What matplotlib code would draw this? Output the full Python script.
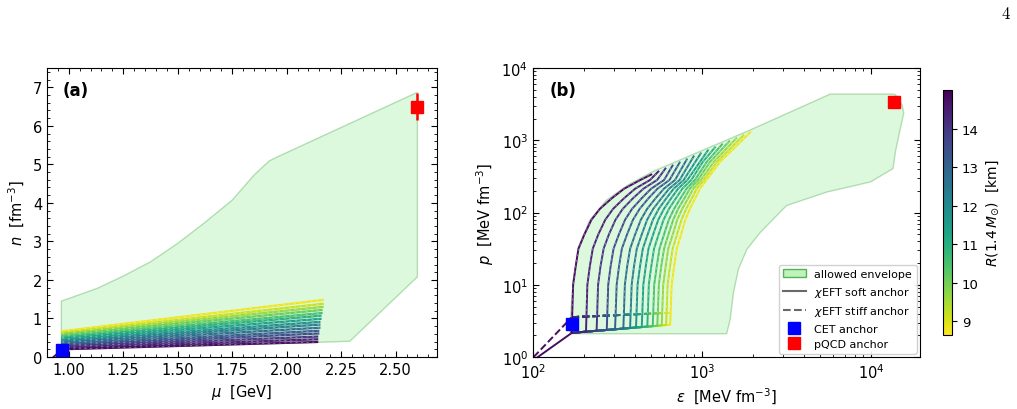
import numpy as np
import matplotlib
matplotlib.use("Agg")
import matplotlib.pyplot as plt
from matplotlib.colors import Normalize, to_rgb
from matplotlib.patches import Patch
from matplotlib.lines import Line2D
from matplotlib.ticker import MultipleLocator, LogLocator, NullFormatter
from matplotlib.cm import ScalarMappable

# ---------------- data ----------------
# radius of 1.4 Msun star for each EOS (colour)
R_km = [14.8, 14.4, 14.0, 13.55, 13.1, 12.7, 12.25, 11.8, 11.4, 10.95, 10.5, 10.1, 9.65, 9.2, 8.8]

# panel (a): n(mu) curves (start / end points)
mu_a_start = [0.97] * 15
n_a_start = [0.20, 0.23, 0.27, 0.30, 0.33, 0.37, 0.40, 0.43, 0.47, 0.50, 0.53, 0.57, 0.60, 0.63, 0.67]
mu_a_end = [2.14, 2.14, 2.14, 2.145, 2.145, 2.15, 2.15, 2.15, 2.155, 2.155, 2.16, 2.16, 2.165, 2.165, 2.165]
n_a_end = [0.39, 0.46, 0.53, 0.61, 0.68, 0.76, 0.84, 0.91, 0.99, 1.07, 1.14, 1.22, 1.30, 1.38, 1.48]
mu_a_crust = [0.93, 0.97]
n_a_crust = [0.0, 0.20]

env_a_mu = [0.966, 0.966, 1.13, 1.25, 1.375, 1.50, 1.62, 1.75, 1.85, 1.92, 1.96, 2.60, 2.60, 2.29, 2.14, 0.966]
env_a_n = [0.20, 1.45, 1.78, 2.10, 2.47, 2.95, 3.47, 4.07, 4.72, 5.09, 5.20, 6.87, 2.08, 0.41, 0.38, 0.20]

cet_a_mu, cet_a_n = 0.97, 0.17
pqcd_a_mu, pqcd_a_n, pqcd_a_err = 2.60, 6.50, 0.36

# panel (b): p(eps) curves
cet_eps, cet_p = 170.0, 2.82
soft_anchor_p, stiff_anchor_p = 2.16, 3.56
eps_crust_soft, p_crust_soft = [107.0, 170.0], [1.0, 2.16]
eps_crust_stiff, p_crust_stiff = [101.0, 170.0], [1.0, 3.56]

eps_b_start = [169.4, 206.1, 238.2, 273.5, 306.2, 342.8, 375.8, 407.4, 440.6, 475.3, 511.7, 544.5, 578.1, 613.8, 648.6]
p_b_soft = [2.16, 2.24, 2.31, 2.37, 2.42, 2.47, 2.52, 2.56, 2.60, 2.64, 2.67, 2.70, 2.74, 2.77, 2.80]
p_b_stiff = [3.56, 3.63, 3.69, 3.74, 3.78, 3.83, 3.87, 3.90, 3.94, 3.96, 4.00, 4.03, 4.06, 4.07, 4.10]

P_LEVELS = [10.0, 17.8, 31.6, 50.1, 79.4, 112.2, 158.5, 213.8, 281.8, 501.0]
eps_b_up = [
    [173, 179, 186, 202, 222, 249, 294, 347, 432],
    [210, 217, 226, 244, 268, 298, 347, 403, 493],
    [243, 251, 262, 282, 308, 340, 392, 451, 543],
    [279, 288, 300, 323, 351, 386, 441, 501, 597],
    [313, 323, 336, 361, 391, 428, 484, 546, 643],
    [350, 361, 376, 403, 435, 474, 533, 596, 693],
    [384, 396, 412, 441, 474, 515, 577, 640, 738],
    [416, 430, 447, 478, 513, 555, 617, 681, 780],
    [450, 465, 483, 515, 552, 596, 659, 723, 820],
    [485, 501, 521, 555, 593, 638, 703, 766, 865, 1012],
    [522, 540, 561, 597, 637, 684, 748, 811, 908, 1067],
    [556, 574, 597, 634, 676, 723, 789, 849, 946, 1117],
    [590, 610, 632, 673, 714, 764, 830, 889, 986, 1175],
    [627, 647, 671, 713, 757, 807, 873, 931, 1026, 1227],
    [662, 684, 710, 753, 798, 849, 914, 973, 1064, 1279],
]
eps_b_top = [501, 552, 608, 670, 738, 813, 893, 984, 1084, 1194, 1315, 1449, 1596, 1758, 1932]
p_b_top = [335, 369, 406, 447, 492, 542, 597, 658, 723, 796, 877, 966, 1064, 1169, 1288]

env_b_eps = [168, 1400, 1469, 1537, 1644, 1845, 2213, 3170, 5480, 9930, 13500, 13960, 14930, 15630,
             15290, 13960, 13500, 5750, 1930, 516, 370, 272, 216, 186, 173, 166, 166]
env_b_p = [2.10, 2.10, 3.3, 7.8, 16.4, 31, 53, 125, 192, 265, 405, 694, 1466, 2370,
           3090, 4270, 4360, 4360, 1387, 372, 245, 148, 77, 33, 11, 3.0, 2.10]

pqcd_eps, pqcd_p = 13770.0, 3370.0

# ---------------- figure ----------------
fig = plt.figure(figsize=(10.17, 4.10), dpi=100)
axA = fig.add_axes([0.0462, 0.1268, 0.3835, 0.7049])
axB = fig.add_axes([0.524, 0.1268, 0.3806, 0.7049])
cax = fig.add_axes([0.9272, 0.1805, 0.00885, 0.5976])

cmap = plt.get_cmap("viridis_r")
norm = Normalize(8.65, 15.0)


def light(c, f=0.5):
    rgb = np.array(to_rgb(c))
    return tuple(rgb + (1 - rgb) * f)


env_face = (0.565, 0.933, 0.565, 0.30)
env_edge = (0.0, 0.5, 0.0, 0.25)
LW = 1.4

# ---- panel (a)
axA.fill(env_a_mu, env_a_n, facecolor=env_face, edgecolor=env_edge, lw=1.0, zorder=0)
c0 = cmap(norm(R_km[0]))
axA.plot(mu_a_crust, n_a_crust, color=c0, lw=LW, zorder=2)
for i in reversed(range(len(R_km))):
    c = cmap(norm(R_km[i]))
    xs = [mu_a_start[i], mu_a_end[i]]
    ys = [n_a_start[i], n_a_end[i]]
    axA.plot(xs, ys, color=c, lw=1.6, zorder=2)
    axA.plot(xs, ys, color=light(c, 0.5), lw=0.5, ls=(0, (3, 5)), zorder=2)
axA.plot([cet_a_mu], [cet_a_n], "s", color="blue", ms=8.5, zorder=5)
axA.errorbar([pqcd_a_mu], [pqcd_a_n], yerr=[pqcd_a_err], fmt="s", color="red", ms=8,
             elinewidth=1.8, capsize=0, zorder=5)

axA.set_xlim(0.90, 2.69)
axA.set_ylim(0, 7.5)
axA.xaxis.set_major_locator(MultipleLocator(0.25))
axA.xaxis.set_minor_locator(MultipleLocator(0.05))
axA.yaxis.set_major_locator(MultipleLocator(1))
axA.yaxis.set_minor_locator(MultipleLocator(0.2))
axA.set_xlabel(r"$\mu$  [GeV]", fontsize=10.5)
axA.set_ylabel(r"$n$  [fm$^{-3}$]", fontsize=10.5)
axA.text(0.04, 0.955, "(a)", transform=axA.transAxes, fontsize=12, fontweight="bold", va="top")

# ---- panel (b)
axB.set_xscale("log")
axB.set_yscale("log")
axB.fill(env_b_eps, env_b_p, facecolor=env_face, edgecolor=env_edge, lw=1.0, zorder=0)
axB.plot(eps_crust_soft, p_crust_soft, color=c0, lw=LW, zorder=2)
axB.plot(eps_crust_stiff, p_crust_stiff, color=c0, lw=LW, ls="--", zorder=2)
for i in reversed(range(len(R_km))):
    c = cmap(norm(R_km[i]))
    up_e = list(eps_b_up[i]) + [eps_b_top[i]]
    up_p = P_LEVELS[:len(eps_b_up[i])] + [p_b_top[i]]
    xs = [cet_eps, eps_b_start[i]] + up_e
    ys = [soft_anchor_p, p_b_soft[i]] + up_p
    axB.plot(xs, ys, color=c, lw=LW, zorder=2, solid_joinstyle="round")
    axB.plot([cet_eps, eps_b_start[i]], [stiff_anchor_p, p_b_stiff[i]], color=c, lw=LW, ls="--", zorder=2)
    axB.plot([eps_b_start[i]] + up_e, [p_b_stiff[i]] + up_p, color=light(c, 0.5), lw=0.5,
             ls=(0, (3, 5)), zorder=2)
axB.plot([cet_eps], [cet_p], "s", color="blue", ms=8, zorder=5)
axB.plot([pqcd_eps], [pqcd_p], "s", color="red", ms=8, zorder=5)

axB.set_xlim(100, 1.95e4)
axB.set_ylim(1, 1e4)
axB.xaxis.set_major_locator(LogLocator(base=10, numticks=10))
axB.yaxis.set_major_locator(LogLocator(base=10, numticks=10))
axB.xaxis.set_minor_locator(LogLocator(base=10, subs=np.arange(2, 10), numticks=20))
axB.yaxis.set_minor_locator(LogLocator(base=10, subs=np.arange(2, 10), numticks=20))
axB.xaxis.set_minor_formatter(NullFormatter())
axB.yaxis.set_minor_formatter(NullFormatter())
axB.set_xlabel(r"$\varepsilon$  [MeV fm$^{-3}$]", fontsize=10.5)
axB.set_ylabel(r"$p$  [MeV fm$^{-3}$]", fontsize=10.5)
axB.text(0.044, 0.955, "(b)", transform=axB.transAxes, fontsize=12, fontweight="bold", va="top")

handles = [
    Patch(facecolor="lightgreen", edgecolor="green", alpha=0.6),
    Line2D([], [], color="dimgray", lw=1.5, ls="-"),
    Line2D([], [], color="dimgray", lw=1.5, ls="--"),
    Line2D([], [], color="blue", marker="s", ls="none", ms=8),
    Line2D([], [], color="red", marker="s", ls="none", ms=8),
]
labels = ["allowed envelope", r"$\chi$EFT soft anchor", r"$\chi$EFT stiff anchor", "CET anchor", "pQCD anchor"]
axB.legend(handles, labels, loc="lower right", fontsize=8, framealpha=0.9, borderaxespad=0.3)

for ax in (axA, axB):
    ax.tick_params(which="both", direction="in", top=True, right=True, labelsize=10.5)
    ax.tick_params(which="major", length=4.5)
    ax.tick_params(which="minor", length=2.2)

# ---- colorbar
sm = ScalarMappable(norm=norm, cmap=cmap)
cb = fig.colorbar(sm, cax=cax)
cb.set_ticks([9, 10, 11, 12, 13, 14])
cb.ax.tick_params(labelsize=9.5, length=3.5)
cb.set_label(r"$R(1.4\,M_{\odot})$  [km]", fontsize=10)

fig.text(0.989, 0.966, r"$4$", math_fontfamily="cm", fontsize=12, ha="center", va="center")

fig.savefig("out.png", dpi=100)
